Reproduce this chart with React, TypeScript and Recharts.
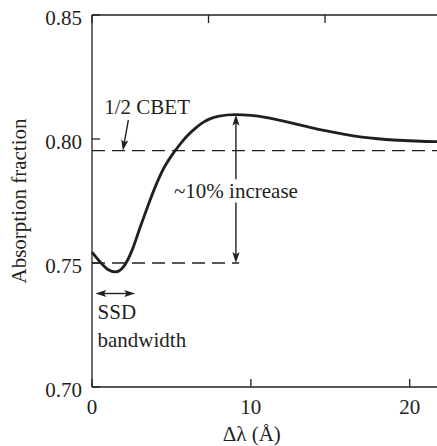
import { LineChart, Line, XAxis, YAxis, ReferenceLine, ReferenceDot } from "recharts"

const INK = "#231f20"
const FONT = "'Liberation Serif', 'Times New Roman', serif"
const FONT_SIZE = 21

// Δλ (Å) and absorption fraction
const shift = [0, 0.5, 1, 1.5, 2, 2.5, 3, 3.5, 4, 4.5, 5, 5.5, 6, 6.5, 7, 7.5, 8, 9, 10, 11, 12, 13, 14, 15, 16, 17, 18, 19, 20, 21, 22]
const absorption = [
  0.7544, 0.7505, 0.7474, 0.7464, 0.7486, 0.7548, 0.7638, 0.7727, 0.781, 0.788, 0.7932,
  0.7975, 0.8013, 0.8043, 0.8067, 0.8083, 0.8092, 0.8098, 0.8095, 0.8086, 0.8073, 0.8058,
  0.8043, 0.803, 0.8018, 0.8008, 0.8001, 0.7996, 0.7993, 0.799, 0.7989,
]

const xTicks = [0, 10, 20]
const yTicks = [0.7, 0.75, 0.8, 0.85]
const xDomain = [0, 22]
const yDomain = [0.7, 0.85]

const cbetLevel = 0.7953
const baseLevel = 0.75
const peakShift = 9.06
const peakLevel = 0.8098

const notes = [
  { text: "1/2 CBET", x: 0.77, y: 0.8129, anchor: "start" },
  { text: "~10% increase", x: peakShift, y: 0.7791, anchor: "middle" },
  { text: "SSD", x: 0.35, y: 0.7305, anchor: "start" },
  { text: "bandwidth", x: 0.35, y: 0.7191, anchor: "start" },
]

const arrows = [
  { from: { x: 2.29, y: 0.8077 }, to: { x: 1.94, y: cbetLevel }, start: false, end: true },
  { from: { x: peakShift, y: peakLevel }, to: { x: peakShift, y: 0.7838 }, start: true, end: false },
  { from: { x: peakShift, y: 0.7744 }, to: { x: peakShift, y: baseLevel }, start: false, end: true },
  { from: { x: 0.21, y: 0.7377 }, to: { x: 2.72, y: 0.7377 }, start: true, end: true },
]

const data = shift.map((x, i) => ({ x, absorption: absorption[i] }))

const textStyle = { fontFamily: FONT, fontSize: FONT_SIZE, fill: INK }

function headPoints(tx: number, ty: number, fx: number, fy: number) {
  const len = Math.hypot(tx - fx, ty - fy) || 1
  const ux = (tx - fx) / len
  const uy = (ty - fy) / len
  const L = 11
  const W = 3.6
  const bx = tx - ux * L
  const by = ty - uy * L
  const nx = tx - ux * L * 0.78
  const ny = ty - uy * L * 0.78
  return `${tx},${ty} ${bx - uy * W},${by + ux * W} ${nx},${ny} ${bx + uy * W},${by - ux * W}`
}

function arrowShape(start: boolean, end: boolean) {
  return (props: any) => {
    const { x1, y1, x2, y2 } = props
    const len = Math.hypot(x2 - x1, y2 - y1) || 1
    const ux = (x2 - x1) / len
    const uy = (y2 - y1) / len
    const cut = 8
    const sx = start ? x1 + ux * cut : x1
    const sy = start ? y1 + uy * cut : y1
    const ex = end ? x2 - ux * cut : x2
    const ey = end ? y2 - uy * cut : y2
    return (
      <g>
        <line x1={sx} y1={sy} x2={ex} y2={ey} stroke={INK} strokeWidth={1.4} />
        {start && <polygon points={headPoints(x1, y1, x2, y2)} fill={INK} />}
        {end && <polygon points={headPoints(x2, y2, x1, y1)} fill={INK} />}
      </g>
    )
  }
}

function noteShape(text: string, anchor: string) {
  return (props: any) => (
    <text x={props.cx} y={props.cy} dy="0.35em" textAnchor={anchor} style={textStyle}>
      {text}
    </text>
  )
}

function BottomTick({ x, y, payload }: any) {
  return (
    <g>
      <line x1={x} x2={x} y1={y - 12} y2={y - 20} stroke={INK} strokeWidth={1.3} />
      <text x={x} y={y} dy="0.72em" textAnchor="middle" style={textStyle}>
        {payload.value}
      </text>
    </g>
  )
}

function TopTick({ x, y }: any) {
  return <line x1={x} x2={x} y1={y} y2={y + 8} stroke={INK} strokeWidth={1.3} />
}

function LeftTick({ x, y, payload }: any) {
  return (
    <g>
      <line x1={x + 10} x2={x + 18} y1={y} y2={y} stroke={INK} strokeWidth={1.3} />
      <text x={x} y={y} dy="0.48em" textAnchor="end" style={textStyle}>
        {Number(payload.value).toFixed(2)}
      </text>
    </g>
  )
}

function RightTick({ x, y }: any) {
  return <line x1={x - 8} x2={x} y1={y} y2={y} stroke={INK} strokeWidth={1.3} />
}

export default function App() {
  return (
    <div
      style={{
        position: "fixed",
        top: 0,
        left: 0,
        width: 437,
        height: 446,
        overflow: "hidden",
        background: "#fff",
      }}
    >
      <LineChart width={460} height={446} data={data} margin={{ top: 14, right: 17.5, left: 0, bottom: 0 }}>
        <XAxis
          dataKey="x"
          type="number"
          domain={xDomain}
          ticks={xTicks}
          height={59}
          tickSize={0}
          tickMargin={12}
          tick={<BottomTick />}
          axisLine={{ stroke: INK, strokeWidth: 1.3 }}
          label={{ value: "Δλ (Å)", position: "insideBottom", offset: 5, dx: -15, style: textStyle }}
        />
        <XAxis
          xAxisId="top"
          orientation="top"
          type="number"
          domain={xDomain}
          ticks={xTicks}
          height={1}
          tickSize={0}
          tickMargin={0}
          tick={<TopTick />}
          axisLine={{ stroke: INK, strokeWidth: 1.3 }}
        />
        <YAxis
          type="number"
          domain={yDomain}
          ticks={yTicks}
          width={92}
          tickSize={0}
          tickMargin={10}
          tick={<LeftTick />}
          axisLine={{ stroke: INK, strokeWidth: 1.3 }}
          label={{
            value: "Absorption fraction",
            angle: -90,
            position: "insideLeft",
            offset: 18.5,
            style: { ...textStyle, textAnchor: "middle" },
          }}
        />
        <YAxis
          yAxisId="right"
          orientation="right"
          type="number"
          domain={yDomain}
          ticks={yTicks}
          width={1}
          tickSize={0}
          tickMargin={0}
          tick={<RightTick />}
          axisLine={{ stroke: INK, strokeWidth: 1.3 }}
        />

        <ReferenceLine y={cbetLevel} stroke={INK} strokeWidth={1.3} strokeDasharray="13 7" />
        <ReferenceLine
          segment={[{ x: 0, y: baseLevel }, { x: peakShift + 0.2, y: baseLevel }]}
          stroke={INK}
          strokeWidth={1.3}
          strokeDasharray="13 7"
        />

        <Line
          dataKey="absorption"
          type="monotone"
          stroke={INK}
          strokeWidth={2.8}
          dot={false}
          activeDot={false}
          isAnimationActive={false}
        />

        {arrows.map((a, i) => (
          <ReferenceLine key={`arrow-${i}`} segment={[a.from, a.to]} shape={arrowShape(a.start, a.end)} />
        ))}
        {notes.map((n) => (
          <ReferenceDot key={n.text} x={n.x} y={n.y} r={0} shape={noteShape(n.text, n.anchor)} />
        ))}
      </LineChart>
    </div>
  )
}
